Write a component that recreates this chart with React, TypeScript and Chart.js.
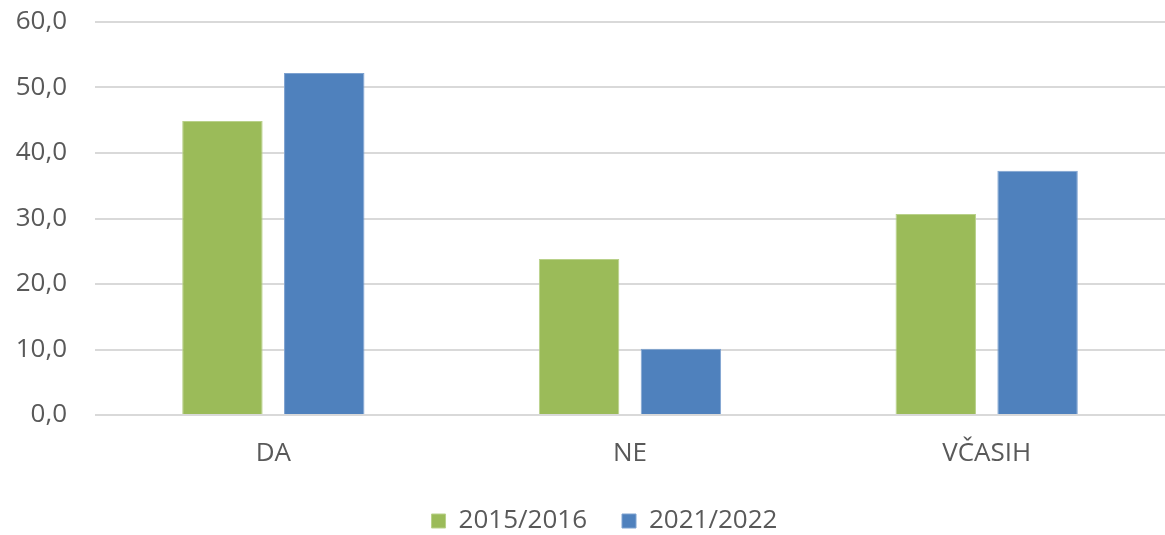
import React, { useEffect, useRef } from "react";
import { Chart, registerables } from "chart.js";

Chart.register(...registerables);

const categories = ["DA", "NE", "VČASIH"];
const seriesNames = ["2015/2016", "2021/2022"];
const values2015 = [44.9, 23.8, 30.7];
const values2021 = [52.2, 10.1, 37.3];
const yTicks = [0, 10, 20, 30, 40, 50, 60];

const GREEN = "#9BBB59";
const BLUE = "#4F81BD";
const TEXT = "#595959";
const FONT = "'Open Sans', sans-serif";

const legendShift = {
  id: "legendShift",
  afterLayout(chart: any) {
    const lg = chart.legend;
    if (lg) {
      lg.left += 22;
      lg.right += 22;
    }
  },
};

export default function App() {
  const ref = useRef<HTMLCanvasElement | null>(null);

  useEffect(() => {
    if (!ref.current) return;
    const chart = new Chart(ref.current, {
      type: "bar",
      data: {
        labels: categories,
        datasets: [
          {
            label: seriesNames[0],
            data: values2015,
            backgroundColor: GREEN,
            borderColor: "#B9D18A",
            borderWidth: 1,
            categoryPercentage: 0.571,
            barPercentage: 0.79,
          },
          {
            label: seriesNames[1],
            data: values2021,
            backgroundColor: BLUE,
            borderColor: "#7EA2D0",
            borderWidth: 1,
            categoryPercentage: 0.571,
            barPercentage: 0.79,
          },
        ],
      },
      options: {
        animation: false,
        responsive: false,
        maintainAspectRatio: false,
        layout: { padding: { top: 22, left: 0, right: 0, bottom: -9 } },
        plugins: {
          tooltip: { enabled: false },
          legend: {
            position: "bottom",
            labels: {
              boxWidth: 14,
              boxHeight: 14,
              padding: 35,
              color: TEXT,
              font: { family: FONT, size: 26 },
            },
          },
        },
        scales: {
          x: {
            grid: { display: false, drawTicks: false },
            border: { display: false },
            afterFit: (scale: any) => {
              scale.height = 58;
            },
            ticks: {
              color: TEXT,
              font: { family: FONT, size: 26 },
              padding: 23,
            },
          },
          y: {
            min: 0,
            max: 60,
            afterFit: (scale: any) => {
              scale.width = 95;
            },
            afterBuildTicks: (scale: any) => {
              scale.ticks = yTicks.map((v) => ({ value: v }));
            },
            grid: {
              color: "#D9D9D9",
              lineWidth: 2,
              drawTicks: true,
              tickLength: 28,
              tickColor: "rgba(0,0,0,0)",
            },
            border: { display: false },
            ticks: {
              color: TEXT,
              font: { family: FONT, size: 26 },
              padding: 0,
              callback: (v: any) => Number(v).toFixed(1).replace(".", ","),
            },
          },
        },
      },
      plugins: [legendShift],
    });
    return () => chart.destroy();
  }, []);

  return (
    <div style={{ position: "fixed", left: 0, top: 0, width: 1165, height: 535, background: "#fff" }}>
      <canvas ref={ref} width={1165} height={535} style={{ width: 1165, height: 535 }} />
    </div>
  );
}
